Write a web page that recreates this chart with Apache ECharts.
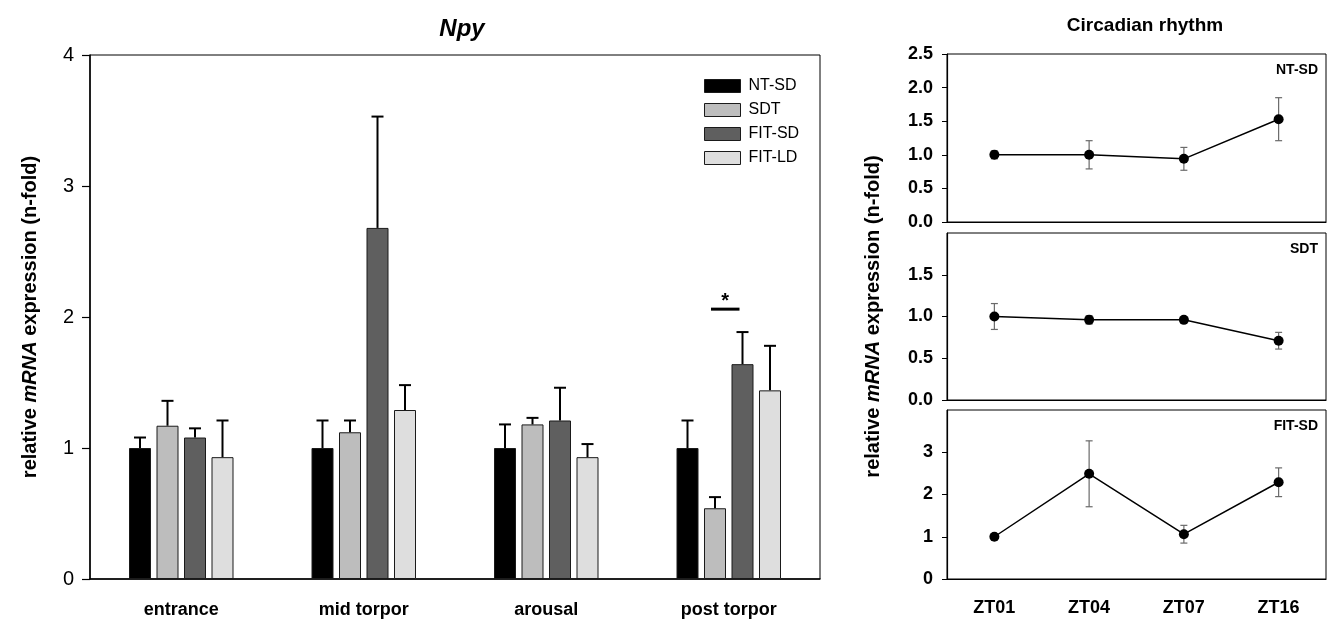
<!DOCTYPE html>
<html>
<head>
<meta charset="utf-8">
<script src="https://cdn.jsdelivr.net/npm/echarts@6/dist/echarts.min.js"></script>
<style>
  html, body { margin: 0; padding: 0; background: #fff; }
  #chart { width: 1329px; height: 623px; }
</style>
</head>
<body>
<div id="chart"></div>
<script>
// Npy expression across torpor stages (mean + SEM)
const stages = ['entrance', 'mid torpor', 'arousal', 'post torpor'];
const groups = ['NT-SD', 'SDT', 'FIT-SD', 'FIT-LD'];
const ntsdMean = [1.00, 1.00, 1.00, 1.00];
const ntsdSem = [0.08, 0.21, 0.18, 0.21];
const sdtMean = [1.17, 1.12, 1.18, 0.54];
const sdtSem = [0.19, 0.09, 0.05, 0.085];
const fitsdMean = [1.08, 2.68, 1.21, 1.64];
const fitsdSem = [0.07, 0.85, 0.25, 0.245];
const fitldMean = [0.93, 1.29, 0.93, 1.44];
const fitldSem = [0.28, 0.19, 0.10, 0.34];

// significance bar between SDT and FIT-SD in post torpor
const sigStage = 'post torpor';
const sigLevel = 2.06;
const sigMark = '*';

// Circadian time points (mean ± SEM)
const zeitgeber = ['ZT01', 'ZT04', 'ZT07', 'ZT16'];
const zNtsdMean = [1.00, 1.00, 0.94, 1.53];
const zNtsdSem = [0.06, 0.21, 0.17, 0.32];
const zSdtMean = [1.00, 0.96, 0.96, 0.71];
const zSdtSem = [0.155, 0.05, 0.03, 0.10];
const zFitsdMean = [1.00, 2.49, 1.06, 2.29];
const zFitsdSem = [0.05, 0.78, 0.21, 0.34];

// axis ticks
const leftTicks = [0, 1, 2, 3, 4];
const panelMax = [2.5, 2, 4];
const panelStep = [0.5, 0.5, 1];

const FONT = 'Liberation Sans, Arial, Helvetica, sans-serif';
const barColors = ['#000000', '#bdbdbd', '#5f5f5f', '#dedede'];
const BAR_W = 22;
const BAR_GAP = 0.25;

const chart = echarts.init(document.getElementById('chart'), null, { renderer: 'canvas' });

const barMeans = [ntsdMean, sdtMean, fitsdMean, fitldMean];
const barSems = [ntsdSem, sdtSem, fitsdSem, fitldSem];

function barOffset(i) {
  return (i - 1.5) * (BAR_W * (1 + BAR_GAP));
}

function barErrorRenderer(idx) {
  return function (params, api) {
    const ci = api.value(0);
    const v = api.value(1);
    const e = api.value(2);
    const base = api.coord([ci, v]);
    const top = api.coord([ci, v + e]);
    const x = base[0] + barOffset(idx);
    const st = { stroke: '#000', lineWidth: 2 };
    return {
      type: 'group',
      children: [
        { type: 'line', shape: { x1: x, y1: base[1], x2: x, y2: top[1] }, style: st },
        { type: 'line', shape: { x1: x - 6, y1: top[1], x2: x + 6, y2: top[1] }, style: st }
      ]
    };
  };
}

function pointErrorRenderer(params, api) {
  const ci = api.value(0);
  const v = api.value(1);
  const e = api.value(2);
  const hi = api.coord([ci, v + e]);
  const lo = api.coord([ci, v - e]);
  const x = hi[0];
  const st = { stroke: '#6a6a6a', lineWidth: 1.2 };
  return {
    type: 'group',
    children: [
      { type: 'line', shape: { x1: x, y1: lo[1], x2: x, y2: hi[1] }, style: st },
      { type: 'line', shape: { x1: x - 3.5, y1: hi[1], x2: x + 3.5, y2: hi[1] }, style: st },
      { type: 'line', shape: { x1: x - 3.5, y1: lo[1], x2: x + 3.5, y2: lo[1] }, style: st }
    ]
  };
}

function sigRenderer(params, api) {
  const ci = api.value(0);
  const y = api.value(1);
  const p = api.coord([ci, y]);
  const x1 = p[0] + barOffset(1) - 4;
  const x2 = p[0] + barOffset(2) - 3;
  return {
    type: 'group',
    children: [
      { type: 'line', shape: { x1: x1, y1: p[1], x2: x2, y2: p[1] }, style: { stroke: '#000', lineWidth: 3 } },
      { type: 'text', style: { text: sigMark, x: (x1 + x2) / 2, y: p[1] - 8, textAlign: 'center', textVerticalAlign: 'middle', font: 'bold 20px ' + FONT, fill: '#000' } }
    ]
  };
}

const rightGrids = [
  { left: 947, top: 54, width: 379, height: 168 },
  { left: 947, top: 233, width: 379, height: 167 },
  { left: 947, top: 410, width: 379, height: 169 }
];

const grids = [{ left: 90, top: 55, width: 730, height: 524 }].concat(rightGrids).map(g =>
  Object.assign({ show: true, borderColor: '#000', borderWidth: 1, backgroundColor: 'transparent', containLabel: false }, g)
);

const xAxes = [{
  type: 'category', gridIndex: 0, data: stages, boundaryGap: true,
  axisLine: { lineStyle: { color: '#000', width: 1.5 } },
  axisTick: { alignWithLabel: true, length: 7, lineStyle: { color: '#000', width: 1.2 } },
  axisLabel: { color: '#000', fontFamily: FONT, fontWeight: 'bold', fontSize: 18, margin: 22 }
}];
[0, 1, 2].forEach(k => {
  xAxes.push({
    type: 'category', gridIndex: k + 1, data: zeitgeber, boundaryGap: true,
    axisLine: { lineStyle: { color: '#000', width: 1.2 } },
    axisTick: { alignWithLabel: true, length: 5, lineStyle: { color: '#000' } },
    axisLabel: { show: k === 2, color: '#000', fontFamily: FONT, fontWeight: 'bold', fontSize: 18, margin: 20 }
  });
});

const yAxes = [{
  type: 'value', gridIndex: 0, min: leftTicks[0], max: leftTicks[leftTicks.length - 1], interval: 1,
  splitLine: { show: false },
  axisLine: { show: true, lineStyle: { color: '#000', width: 1.5 } },
  axisTick: { show: true, length: 8, lineStyle: { color: '#000', width: 1.2 } },
  axisLabel: { color: '#000', fontFamily: FONT, fontSize: 20, margin: 16 },
  name: '{b|relative }{i|mRNA}{b| expression (n-fold)}',
  nameLocation: 'middle', nameGap: 50, nameRotate: 90,
  nameTextStyle: {
    rich: {
      b: { fontFamily: FONT, fontWeight: 'bold', fontSize: 20, color: '#000' },
      i: { fontFamily: FONT, fontWeight: 'bold', fontStyle: 'italic', fontSize: 20, color: '#000' }
    }
  }
}];
[0, 1, 2].forEach(k => {
  const ax = {
    type: 'value', gridIndex: k + 1, min: 0, max: panelMax[k], interval: panelStep[k],
    splitLine: { show: false },
    axisLine: { show: true, lineStyle: { color: '#000', width: 1.2 } },
    axisTick: { show: true, length: 5, lineStyle: { color: '#000' } },
    axisLabel: {
      color: '#000', fontFamily: FONT, fontWeight: 'bold', fontSize: 18, margin: 14,
      showMaxLabel: k === 0,
      formatter: v => (panelStep[k] < 1 ? v.toFixed(1) : String(v))
    }
  };
  if (k === 1) {
    Object.assign(ax, {
      name: '{b|relative }{i|mRNA}{b| expression (n-fold)}',
      nameLocation: 'middle', nameGap: 64, nameRotate: 90,
      nameTextStyle: {
        rich: {
          b: { fontFamily: FONT, fontWeight: 'bold', fontSize: 20, color: '#000' },
          i: { fontFamily: FONT, fontWeight: 'bold', fontStyle: 'italic', fontSize: 20, color: '#000' }
        }
      }
    });
  }
  yAxes.push(ax);
});

const series = [];
groups.forEach((g, i) => {
  series.push({
    name: g, type: 'bar', xAxisIndex: 0, yAxisIndex: 0,
    data: barMeans[i], barWidth: BAR_W, barGap: (BAR_GAP * 100) + '%',
    itemStyle: { color: barColors[i], borderColor: '#1a1a1a', borderWidth: 1 },
    z: 2
  });
});
groups.forEach((g, i) => {
  series.push({
    type: 'custom', xAxisIndex: 0, yAxisIndex: 0,
    renderItem: barErrorRenderer(i),
    data: stages.map((s, j) => [j, barMeans[i][j], barSems[i][j]]),
    encode: { x: 0, y: 1 }, z: 3, silent: true
  });
});
series.push({
  type: 'custom', xAxisIndex: 0, yAxisIndex: 0,
  renderItem: sigRenderer,
  data: [[stages.indexOf(sigStage), sigLevel]],
  encode: { x: 0, y: 1 }, z: 4, silent: true
});

const zMeans = [zNtsdMean, zSdtMean, zFitsdMean];
const zSems = [zNtsdSem, zSdtSem, zFitsdSem];
const zNames = ['NT-SD rhythm', 'SDT rhythm', 'FIT-SD rhythm'];
[0, 1, 2].forEach(k => {
  series.push({
    type: 'custom', xAxisIndex: k + 1, yAxisIndex: k + 1,
    renderItem: pointErrorRenderer,
    data: zeitgeber.map((z, j) => [j, zMeans[k][j], zSems[k][j]]),
    encode: { x: 0, y: 1 }, z: 2, silent: true
  });
  series.push({
    name: zNames[k], type: 'line', xAxisIndex: k + 1, yAxisIndex: k + 1,
    data: zMeans[k], symbol: 'circle', symbolSize: 10,
    lineStyle: { color: '#000', width: 1.5 },
    itemStyle: { color: '#000' },
    z: 3, silent: true
  });
});

const panelTags = ['NT-SD', 'SDT', 'FIT-SD'];

chart.setOption({
  animation: false,
  backgroundColor: '#fff',
  title: [
    { text: 'Npy', left: 457, top: 12, textAlign: 'center',
      textStyle: { fontFamily: FONT, fontWeight: 'bold', fontStyle: 'italic', fontSize: 24, color: '#000' } },
    { text: 'Circadian rhythm', left: 1140, top: 11, textAlign: 'center',
      textStyle: { fontFamily: FONT, fontWeight: 'bold', fontSize: 19, color: '#000' } }
  ],
  legend: {
    data: groups, orient: 'vertical', left: 699, top: 73,
    itemWidth: 36, itemHeight: 13, itemGap: 8, icon: 'rect',
    itemStyle: { borderColor: '#1a1a1a', borderWidth: 1 },
    textStyle: { fontFamily: FONT, fontSize: 16, color: '#000', padding: [0, 0, 0, 3] },
    selectedMode: false
  },
  graphic: panelTags.map((t, k) => ({
    type: 'text',
    right: 11,
    top: rightGrids[k].top + 9,
    style: { text: t, font: 'bold 14px ' + FONT, fill: '#000' }
  })),
  grid: grids,
  xAxis: xAxes,
  yAxis: yAxes,
  series: series
});
</script>
</body>
</html>
